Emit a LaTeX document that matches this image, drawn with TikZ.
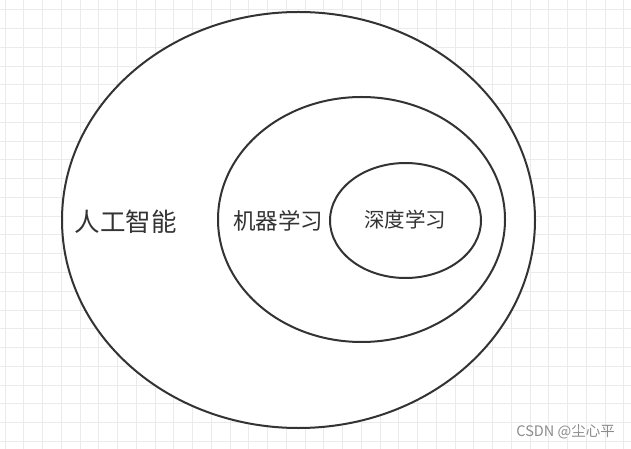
\documentclass[tikz,border=0pt]{standalone}
\usepackage{fontspec}
\usepackage{tikz}
\usetikzlibrary{positioning,calc}
\newfontfamily\cjk{Noto Sans CJK SC}
\definecolor{inkgray}{HTML}{333333}
\definecolor{gridgray}{HTML}{EBEBEB}
\definecolor{markgray}{HTML}{8C8C8C}
\tikzset{gridline/.style={draw=gridgray, line width=1bp},
         ring/.style={draw=inkgray, line width=2bp},
         field/.style={text=inkgray, inner sep=0pt, font=\cjk}}

\begin{document}
\begin{tikzpicture}[x=1bp,y=-1bp]
  \useasboundingbox[fill=white] (0,0) rectangle (631,449);
  % background grid
  \foreach \i in {0,...,33}
    \draw[gridline] ({5+18.75*\i},0) -- ({5+18.75*\i},449);
  \foreach \j in {0,...,23}
    \draw[gridline] (0,{10+18.75*\j}) -- (631,{10+18.75*\j});
  % nested fields
  \filldraw[ring, fill=white] (298.5,220) ellipse [x radius=236.5, y radius=208];
  \draw[ring] (361.5,219.5) ellipse [x radius=143.5, y radius=122.5];
  \draw[ring] (405.5,220.5) ellipse [x radius=75.5, y radius=57.5];
  \node[field, font=\cjk\fontsize{25.5bp}{30bp}\selectfont] (ai) at (125.5,222) {人工智能};
  \node[field, font=\cjk\fontsize{22.5bp}{27bp}\selectfont] (ml) at (278,221) {机器学习};
  \node[field, font=\cjk\fontsize{20.5bp}{25bp}\selectfont] (dl) at (405,220) {深度学习};
  \node[text=markgray, inner sep=0pt, font=\cjk\fontsize{14.5bp}{17bp}\selectfont,
        anchor=east] (mark) at (615,432) {CSDN @尘心平};
\end{tikzpicture}
\end{document}
